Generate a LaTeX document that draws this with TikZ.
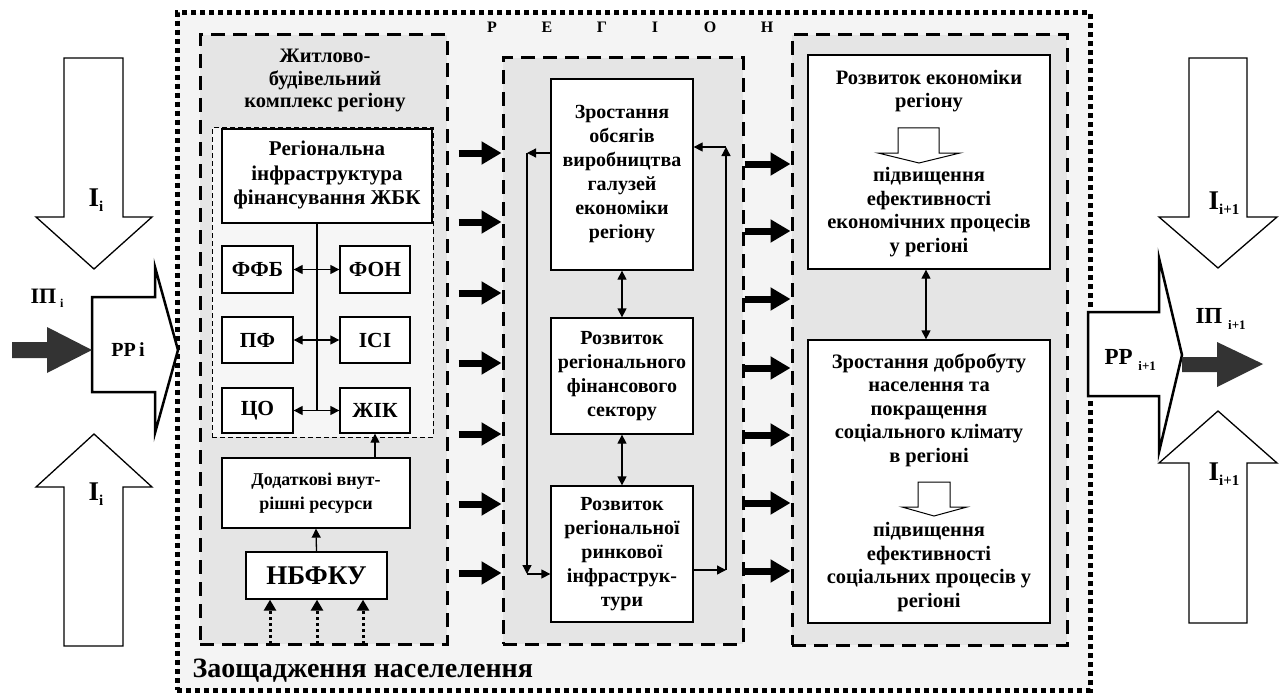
\documentclass[tikz,border=0pt]{standalone}
\usepackage{fontspec}
\setmainfont{Liberation Serif}
\usetikzlibrary{arrows.meta,fit,calc}
\begin{document}
\begin{tikzpicture}[x=1pt,y=-1pt,
  ftitle/.style={font=\fontsize{20.5}{22.5}\selectfont\bfseries, align=center},
  fmid/.style={font=\fontsize{20}{24}\selectfont\bfseries, align=center},
  fright/.style={font=\fontsize{20.5}{23.5}\selectfont\bfseries, align=center},
  fsmall/.style={font=\fontsize{21.5}{21.5}\selectfont\bfseries},
  box/.style={draw, line width=1.3pt, fill=white, inner sep=0pt},
  dbox/.style={draw, line width=3pt, dash pattern=on 14pt off 8pt, fill=gray!20, inner sep=0pt},
  bigarrow/.style={line width=7pt, -{Triangle[length=20pt,width=22pt]}},
  thinarr/.style={line width=1.3pt, -{Triangle[length=9pt,width=9pt]}},
  dblarr/.style={line width=1.3pt, {Triangle[length=9pt,width=9pt]}-{Triangle[length=9pt,width=9pt]}},
  blk/.style={draw, line width=1.3pt, fill=white, line join=miter},
  dk/.style={fill=black!80},
  dotarr/.style={line width=3pt, dash pattern=on 3pt off 3pt, -{Triangle[length=11pt,width=12pt]}}
]
\useasboundingbox (0,0) rectangle (1279,698);
\fill[white] (0,0) rectangle (1279,698);

% outer region
\node[draw, line width=5pt, dash pattern=on 5pt off 4pt, fill=gray!9, inner sep=0pt, fit={(177,13) (1090,690)}] (reg) {};
\foreach \x/\l [count=\k] in {492/Р,547/Е,602/Г,655/І,710/О,767/Н}
  \node[font=\fontsize{16}{16}\selectfont\bfseries] (rl\k) at (\x,27) {\l};
\node[anchor=west, font=\fontsize{28}{28}\selectfont\bfseries] (zao) at (189,671) {Заощадження населелення};

% dashed groups
\node[dbox, fit={(200,35) (447,644)}] (lb) {};
\node[dbox, fit={(503,58) (743,644)}] (mb) {};
\node[dbox, fit={(792,35) (1067,645)}] (rb) {};

% left group
\node[ftitle] (lbt) at (325,81) {Житлово-\\будівельний\\комплекс регіону};
\node[draw, line width=1pt, dash pattern=on 5pt off 3pt, fill=gray!7, inner sep=0pt, fit={(212,128) (433,437)}] (ib) {};
\node[box, fit={(222,129) (432,223)}] (rif) {};
\node[font=\fontsize{21}{24.5}\selectfont\bfseries, align=center] (rift) at (327,175) {Регіональна\\інфраструктура\\фінансування ЖБК};
\node[box, fit={(222,246) (293,293)}] (ffb) {};
\node[box, fit={(340,246) (410,293)}] (fon) {};
\node[box, fit={(222,317) (293,363)}] (pf) {};
\node[box, fit={(340,317) (410,363)}] (isi) {};
\node[box, fit={(222,388) (293,433)}] (co) {};
\node[box, fit={(340,388) (410,433)}] (zik) {};
\node[fsmall] (ffbt) at (ffb.center) {ФФБ};
\node[fsmall] (font) at (fon.center) {ФОН};
\node[fsmall] (pft) at (pf.center) {ПФ};
\node[fsmall] (isit) at (isi.center) {ІСІ};
\node[fsmall] (cot) at (co.center) {ЦО};
\node[fsmall] (zikt) at (zik.center) {ЖІК};
\coordinate (vl) at (317,410);
\draw[line width=1.3pt] (rif.south -| vl) -- (vl);
\draw[dblarr] (ffb.east) -- (fon.west);
\draw[dblarr] (pf.east) -- (isi.west);
\draw[dblarr] (co.east) -- (zik.west);
\node[box, fit={(222,458) (410,528)}] (dod) {};
\node[font=\fontsize{18}{24}\selectfont\bfseries, align=center] (dodt) at (dod.center) {Додаткові внут-\\рішні ресурси};
\node[box, fit={(246,552) (387,599)}] (nb) {};
\node[font=\fontsize{27}{27}\selectfont\bfseries] (nbt) at (nb.center) {НБФКУ};
\draw[thinarr] (dod.north -| zik.south) -- (zik.south);
\draw[thinarr] (nb.north) -- (dod.south);
\foreach \x [count=\k] in {270,317,363} {
  \coordinate (s\k) at (\x,644);
  \draw[dotarr] (s\k) -- (s\k |- nb.south);
}

% middle group
\node[box, fit={(551,79) (693,270)}] (zr) {};
\node[fmid] (zrt) at (zr.center) {Зростання\\обсягів\\виробництва\\галузей\\економіки\\регіону};
\node[box, fit={(551,318) (693,434)}] (fin) {};
\node[fmid] (fint) at (fin.center) {Розвиток\\регіонального\\фінансового\\сектору};
\node[box, fit={(551,486) (693,622)}] (rk) {};
\node[fmid] (rkt) at (rk.center) {Розвиток\\регіональної\\ринкової\\інфраструк-\\тури};
\draw[dblarr] (zr.south) -- (fin.north);
\draw[dblarr] (fin.south) -- (rk.north);
\coordinate (L1) at (527,153);
\coordinate (L2) at (527,574);
\draw[thinarr] (zr.west |- L1) -- (L1);
\draw[thinarr] (L1) -- (L2);
\draw[thinarr] (L2) -- (rk.west |- L2);
\coordinate (R1) at (726,570);
\coordinate (R2) at (726,147);
\draw[thinarr] (rk.east |- R1) -- (R1);
\draw[thinarr] (R1) -- (R2);
\draw[thinarr] (R2) -- (zr.east |- R2);

% right group
\node[box, fit={(808,55) (1050,269)}] (ec) {};
\node[fright] (ect) at (929,91) {Розвиток економіки\\регіону};
\draw[line width=1pt, fill=white, line join=miter] (898,128) -- (939,128) -- (939,153) -- (960,153) -- (919,163) -- (878,153) -- (898,153) -- cycle;
\node[fright] (ecb) at (929,212) {підвищення\\ефективності\\економічних процесів\\у регіоні};
\node[box, fit={(808,340) (1050,623)}] (wf) {};
\draw[dblarr] (ec.south -| 926,0) -- (wf.north -| 926,0);
\node[fright] (wft) at (929,410) {Зростання добробуту\\населення та\\покращення\\соціального клімату\\в регіоні};
\draw[line width=1pt, fill=white, line join=miter] (918,482) -- (950,482) -- (950,507) -- (967,507) -- (934,516) -- (902,507) -- (918,507) -- cycle;
\node[fright] (wfb) at (929,567) {підвищення\\ефективності\\соціальних процесів у\\регіоні};

% thick arrows
\foreach \y in {153,222,293,363,434,504,573}
  \draw[bigarrow] ([xshift=10pt]lb.east |- 0,\y) -- (mb.west |- 0,\y);
\foreach \y in {164,231,299,368,435,503,571}
  \draw[bigarrow] (mb.east |- 0,\y) -- (rb.west |- 0,\y);

% left outer arrows
\draw[blk] (64,58) -- (123,58) -- (123,217) -- (152,217) -- (94,269) -- (36,217) -- (64,217) -- cycle;
\node[font=\fontsize{27}{27}\selectfont\bfseries] (iil1) at (96,200) {I\raisebox{-5pt}{\fontsize{15}{15}\selectfont i}};
\draw[blk] (64,646) -- (123,646) -- (123,487) -- (152,487) -- (94,434) -- (36,487) -- (64,487) -- cycle;
\node[font=\fontsize{27}{27}\selectfont\bfseries] (iil2) at (96,494) {I\raisebox{-5pt}{\fontsize{15}{15}\selectfont i}};
\draw[blk, line width=2.5pt] (92,297) -- (155,297) -- (155,267) -- (178,350) -- (155,433) -- (155,392) -- (92,392) -- cycle;
\node[font=\fontsize{20}{20}\selectfont\bfseries] (ppl) at (128,350) {РР\,i};
\fill[dk] (12,342) -- (47,342) -- (47,327) -- (92,350) -- (47,373) -- (47,358) -- (12,358) -- cycle;
\node[font=\fontsize{22}{22}\selectfont\bfseries] (ipl) at (47,298) {ІП\,\raisebox{-4pt}{\fontsize{12}{12}\selectfont i}};

% right outer arrows
\draw[blk] (1189,58) -- (1247,58) -- (1247,217) -- (1277,217) -- (1218,268) -- (1159,217) -- (1189,217) -- cycle;
\node[font=\fontsize{27}{27}\selectfont\bfseries] (iir1) at (1224,203) {I\raisebox{-5pt}{\fontsize{15}{15}\selectfont i+1}};
\draw[blk] (1189,623) -- (1247,623) -- (1247,463) -- (1277,463) -- (1218,411) -- (1159,463) -- (1189,463) -- cycle;
\node[font=\fontsize{27}{27}\selectfont\bfseries] (iir2) at (1224,474) {I\raisebox{-5pt}{\fontsize{15}{15}\selectfont i+1}};
\draw[blk, line width=2.5pt] (1088,312) -- (1159,312) -- (1159,258) -- (1182,355) -- (1159,452) -- (1159,396) -- (1088,396) -- cycle;
\node[anchor=west, font=\fontsize{23}{23}\selectfont\bfseries] (ppr) at (1101,360) {РР\ \raisebox{-6pt}{\fontsize{13}{13}\selectfont i+1}};
\fill[dk] (1182,357) -- (1217,357) -- (1217,342) -- (1263,364) -- (1217,387) -- (1217,372) -- (1182,372) -- cycle;
\node[anchor=west, font=\fontsize{23}{23}\selectfont\bfseries] (ipr) at (1192,319) {ІП\ \raisebox{-6pt}{\fontsize{13}{13}\selectfont i+1}};
\end{tikzpicture}
\end{document}
